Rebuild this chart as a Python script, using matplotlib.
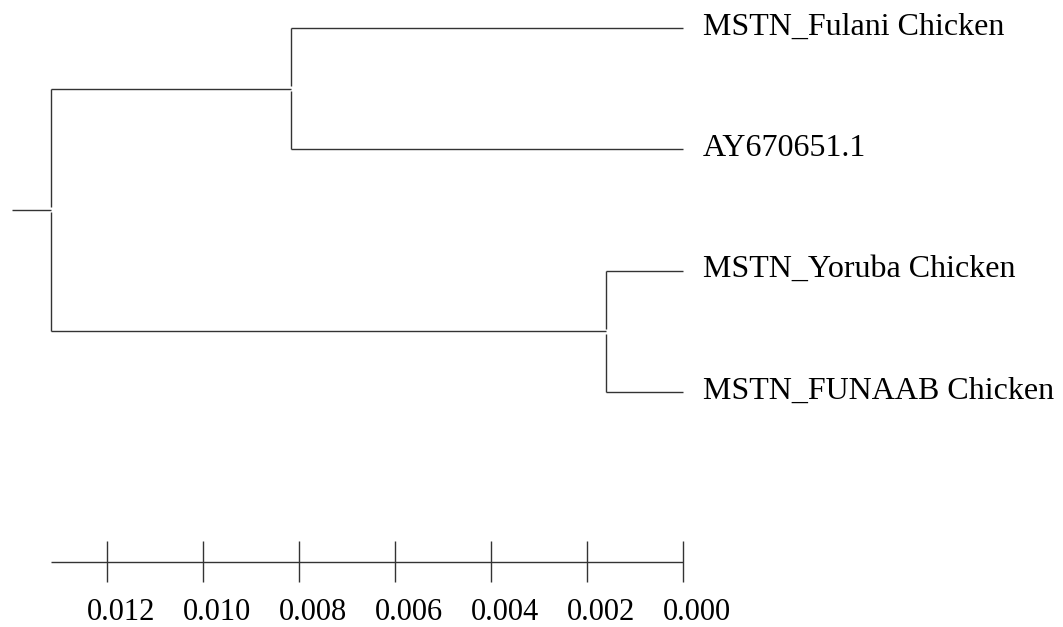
import matplotlib.pyplot as plt
from matplotlib.transforms import offset_copy

plt.rcParams["font.family"] = ["Liberation Serif", "DejaVu Serif"]

# leaves, top to bottom
leaf_names = ["MSTN_Fulani Chicken", "AY670651.1", "MSTN_Yoruba Chicken", "MSTN_FUNAAB Chicken"]
# node depths (substitutions per site) measured from the tips
clade_heights = [0.00817, 0.00161]   # (Fulani, AY670651.1), (Yoruba, FUNAAB)
root_height = 0.01317
root_stub = 0.0008
scale_ticks = [0.012, 0.010, 0.008, 0.006, 0.004, 0.002, 0.000]

LINE = "#333333"
LW = 1.0

fig = plt.figure(figsize=(10.63, 6.27), dpi=100)
ax = fig.add_axes([0, 0, 1, 1])
ax.set_xlim(0.014229, -0.007917)
ax.set_ylim(4.937, -0.2308)
ax.axis("off")

# pixel -> data helpers for small gaps
px_y = (4.937 + 0.2308) / 627.0


def vline(x, y0, y1, ymid):
    # split vertical at the parent attachment point, leaving a tiny gap
    g = 2.5 * px_y
    ax.plot([x, x], [y0, ymid - g], color=LINE, lw=LW, solid_capstyle="butt")
    ax.plot([x, x], [ymid + g, y1], color=LINE, lw=LW, solid_capstyle="butt")


leaf_y = list(range(len(leaf_names)))
clade_y = []
for k, h in enumerate(clade_heights):
    ya, yb = leaf_y[2 * k], leaf_y[2 * k + 1]
    ym = (ya + yb) / 2
    clade_y.append(ym)
    for yl in (ya, yb):
        ax.plot([h, 0.0], [yl, yl], color=LINE, lw=LW, solid_capstyle="butt")
    vline(h, ya, yb, ym)

root_y = sum(clade_y) / 2
for h, ym in zip(clade_heights, clade_y):
    ax.plot([root_height, h], [ym, ym], color=LINE, lw=LW, solid_capstyle="butt")
vline(root_height, clade_y[0], clade_y[1], root_y)
ax.plot([root_height + root_stub, root_height], [root_y, root_y], color=LINE, lw=LW,
        solid_capstyle="butt")

# tip labels
lab_tr = offset_copy(ax.transData, fig=fig, x=14.4, y=-4.75, units="points")
for name, y in zip(leaf_names, leaf_y):
    ax.text(0.0, y, name, transform=lab_tr, fontsize=23, ha="left", va="baseline",
            color="black")

# scale bar
bar_y = 4.40
tick_half_up = 0.175
tick_half_dn = 0.17
ax.plot([root_height, scale_ticks[-1]], [bar_y, bar_y], color=LINE, lw=LW,
        solid_capstyle="butt")
tick_tr = offset_copy(ax.transData, fig=fig, x=10.0, y=0, units="points")
for t in scale_ticks:
    ax.plot([t, t], [bar_y - tick_half_up, bar_y + tick_half_dn], color=LINE, lw=LW,
            solid_capstyle="butt")
    ax.text(t, 4.877, f"{t:.3f}", transform=tick_tr, fontsize=22, ha="center",
            va="baseline", color="black")

fig.savefig("out.png", dpi=100)
